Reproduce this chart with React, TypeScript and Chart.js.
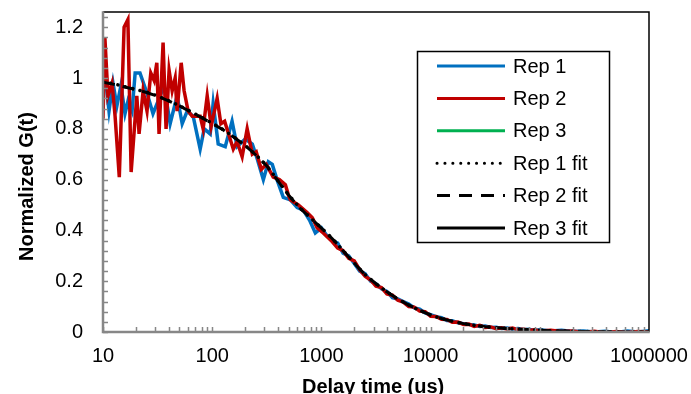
import React, { useEffect, useRef } from 'react';
import { Chart, registerables } from 'chart.js';

Chart.register(...registerables);

// ---------- DATA ----------
const rep1Time = [
  10, 10.65, 11.35, 12.35, 13.4, 14.6, 15.9, 16.95, 18.45, 19.7, 21.8, 25.3, 28.7, 32.0, 36.3, 41.2, 47.7, 53.1,
  59.0, 66.9, 77.6, 84.5, 95.9, 102, 113.5, 131.6, 152, 169, 201, 233, 259, 294, 327, 355, 392, 448, 520, 600, 683,
  780, 880, 1000, 1120, 1260, 1410, 1580, 1780, 2000, 2240, 2510, 2820, 3160, 3550, 3980, 4470, 5010, 5620, 6310,
  7080, 7940, 8910, 10000, 11200, 12600, 14100, 15800, 17800, 20000, 22400, 25100, 28200, 31600, 35500, 39800,
  44700, 50100, 56200, 63100, 70800, 79400, 89100, 100000, 126000, 158000, 200000, 251000, 316000, 398000, 501000,
  631000, 794000, 1000000,
];
const rep1Values = [
  1.16, 0.98, 0.87, 0.98, 0.89, 0.97, 0.86, 0.91, 0.87, 1.02, 1.02, 0.94, 0.86, 0.91, 0.97, 0.82, 0.93, 0.82,
  0.87, 0.85, 0.72, 0.80, 0.78, 0.90, 0.74, 0.73, 0.83, 0.73, 0.76, 0.74, 0.68, 0.60, 0.67, 0.66, 0.60, 0.53, 0.52, 0.49, 0.48,
  0.44, 0.39, 0.41, 0.38, 0.36, 0.35, 0.31, 0.30, 0.27, 0.24, 0.23, 0.20, 0.19, 0.17, 0.16, 0.135, 0.13, 0.12, 0.11,
  0.095, 0.09, 0.075, 0.068, 0.06, 0.056, 0.045, 0.044, 0.036, 0.033, 0.030, 0.028, 0.022, 0.024, 0.018, 0.019,
  0.014, 0.016, 0.012, 0.014, 0.009, 0.011, 0.006, 0.009, 0.004, 0.007, 0.002, 0.004, 0.0, 0.003, -0.002,
  0.004, 0.0, 0.005,
];

const rep2Time = [
  10, 10.4, 11.1, 12.1, 12.9, 14.1, 15.6, 16.9, 18.1, 20.4, 21.4, 23.3, 25.3, 27.4, 29.4, 31.1, 32.6, 35.5, 37.8,
  40.3, 43.0, 45.8, 47.7, 52.0, 55.3, 60.2, 65.6, 72.8, 77.6, 82.6, 90.0, 97.9, 111, 120, 130, 156, 169, 188, 209,
  233, 253, 282, 313, 362, 412, 468, 498, 520, 615, 740, 826, 915, 1040, 1260, 1410, 1580, 1780, 2000, 2240, 2510,
  2820, 3160, 3550, 3980, 4470, 5010, 5620, 6310, 7080, 7940, 8910, 10000, 11200, 12600, 14100, 15800, 17800,
  20000, 22400, 25100, 28200, 31600, 35500, 39800, 44700, 50100, 56200, 63100, 70800, 79400, 89100, 100000,
  126000, 158000, 200000, 251000, 316000, 398000, 501000, 631000, 794000, 1000000,
];
const rep2Values = [
  0.84, 1.16, 0.93, 0.98, 0.85, 0.61, 1.20, 1.23, 0.63, 0.93, 0.78, 0.95, 0.87, 1.02, 0.99, 1.06, 0.78, 1.14, 0.80,
  1.03, 0.95, 1.00, 0.87, 1.06, 0.95, 0.87, 0.85, 0.85, 0.85, 0.80, 0.93, 0.81, 0.92, 0.82, 0.83, 0.72, 0.75, 0.69, 0.80,
  0.70, 0.71, 0.64, 0.66, 0.61, 0.60, 0.58, 0.54, 0.52, 0.50, 0.47, 0.45, 0.41, 0.39, 0.355, 0.33, 0.32, 0.29, 0.28, 0.245, 0.22,
  0.205, 0.18, 0.175, 0.15, 0.145, 0.125, 0.118, 0.10, 0.098, 0.082, 0.08, 0.062, 0.061, 0.05, 0.049, 0.038, 0.039,
  0.03, 0.031, 0.022, 0.026, 0.018, 0.02, 0.013, 0.017, 0.012, 0.016, 0.009, 0.012, 0.006, 0.009, 0.004,
  0.007, 0.002, 0.004, -0.002, 0.003, -0.003, 0.002, -0.002, 0.002, 0.0,
];

const rep3Time: number[] = [];
const rep3Values: number[] = [];

const fitTime = [
  10, 12.6, 15.8, 20, 25.1, 31.6, 39.8, 50.1, 63.1, 79.4, 100, 126, 158, 200, 251, 316, 398, 501, 631, 794, 1000,
  1259, 1585, 1995, 2512, 3162, 3981, 5012, 6310, 7943, 10000, 12589, 15849, 19953, 25119, 31623, 39811, 50119,
  63096, 79433, 100000, 125893, 158489, 199526, 251189, 316228, 398107, 501187, 630957, 794328, 1000000,
];
const rep1FitValues = [
  0.985, 0.977, 0.966, 0.955, 0.944, 0.929, 0.911, 0.891, 0.869, 0.846, 0.822, 0.797, 0.768, 0.735, 0.698, 0.655,
  0.597, 0.540, 0.490, 0.450, 0.410, 0.368, 0.320, 0.272, 0.226, 0.190, 0.158, 0.130, 0.106, 0.085, 0.067, 0.053,
  0.042, 0.033, 0.026, 0.021, 0.017, 0.014, 0.011, 0.009, 0.007, 0.005, 0.004, 0.003, 0.002, 0.001, 0.001, 0.0,
  0.0, 0.0, 0.0,
];
const rep2FitValues = [
  0.983, 0.975, 0.965, 0.954, 0.943, 0.928, 0.910, 0.890, 0.868, 0.845, 0.821, 0.796, 0.767, 0.734, 0.697, 0.654,
  0.596, 0.539, 0.489, 0.449, 0.409, 0.367, 0.319, 0.271, 0.226, 0.190, 0.158, 0.130, 0.106, 0.085, 0.067, 0.053,
  0.042, 0.033, 0.026, 0.021, 0.017, 0.014, 0.011, 0.009, 0.007, 0.005, 0.004, 0.003, 0.002, 0.001, 0.001, 0.0,
  0.0, 0.0, 0.0,
];
const rep3FitTime: number[] = [];
const rep3FitValues: number[] = [];

const seriesLabels = ['Rep 1', 'Rep 2', 'Rep 3', 'Rep 1 fit', 'Rep 2 fit', 'Rep 3 fit'];
const xTickValues = [10, 100, 1000, 10000, 100000, 1000000];
const yTickValues = [0, 0.2, 0.4, 0.6, 0.8, 1, 1.2];
const xTitle = 'Delay time (us)';
const yTitle = 'Normalized G(t)';

// ---------- STYLE ----------
const FONT = "'Liberation Sans', Arial, sans-serif";
const BLUE = '#0070C0';
const RED = '#C00000';
const GREEN = '#00B050';
const AXIS_GRAY = '#878787';

const toPoints = (xs: number[], ys: number[]) => xs.map((x, i) => ({ x, y: ys[i] }));

const legendStyles = [
  { color: BLUE, dash: [] as number[], cap: 'butt' as CanvasLineCap },
  { color: RED, dash: [] as number[], cap: 'butt' as CanvasLineCap },
  { color: GREEN, dash: [] as number[], cap: 'butt' as CanvasLineCap },
  { color: '#000', dash: [0.1, 7.8], cap: 'round' as CanvasLineCap },
  { color: '#000', dash: [13, 9], cap: 'butt' as CanvasLineCap },
  { color: '#000', dash: [] as number[], cap: 'butt' as CanvasLineCap },
];

const decorPlugin = {
  id: 'decor',
  afterDatasetsDraw(chart: any) {
    const { ctx, chartArea: a, scales } = chart;
    const xs = scales.x;
    const ys = scales.y;
    ctx.save();
    ctx.strokeStyle = '#000';
    ctx.lineWidth = 1.5;
    ctx.beginPath();
    ctx.moveTo(a.left, a.top);
    ctx.lineTo(a.right, a.top);
    ctx.lineTo(a.right, a.bottom);
    ctx.stroke();
    ctx.strokeStyle = AXIS_GRAY;
    ctx.lineWidth = 1.5;
    ctx.beginPath();
    for (let d = 1; d < 6; d++) {
      for (let m = 1; m < 10; m++) {
        const v = m * Math.pow(10, d);
        const px = Math.round(xs.getPixelForValue(v)) + 0.5;
        ctx.moveTo(px, a.bottom);
        ctx.lineTo(px, a.bottom - 5);
      }
    }
    for (let k = 0; k <= 31; k++) {
      const v = k * 0.04;
      const py = Math.round(ys.getPixelForValue(v)) + 0.5;
      ctx.moveTo(a.left, py);
      ctx.lineTo(a.left + 5, py);
    }
    ctx.stroke();
    ctx.lineWidth = 2.5;
    ctx.beginPath();
    ctx.moveTo(a.left, a.top - 0.75);
    ctx.lineTo(a.left, a.bottom);
    ctx.lineTo(a.right + 0.75, a.bottom);
    ctx.stroke();
    ctx.restore();
  },
  afterDraw(chart: any) {
    const { ctx } = chart;
    ctx.save();
    ctx.fillStyle = '#000';
    ctx.font = `bold 20px ${FONT}`;
    ctx.textAlign = 'left';
    ctx.textBaseline = 'alphabetic';
    ctx.fillText(xTitle, 302, 393);
    ctx.save();
    ctx.translate(33, 261);
    ctx.rotate(-Math.PI / 2);
    ctx.fillText(yTitle, 0, 0);
    ctx.restore();

    const bx = 417.5, by = 51.5, bw = 192, bh = 191;
    ctx.fillStyle = '#fff';
    ctx.fillRect(bx, by, bw, bh);
    ctx.strokeStyle = '#000';
    ctx.lineWidth = 1.5;
    ctx.strokeRect(bx, by, bw, bh);
    const rowH = 32.4;
    ctx.font = `20px ${FONT}`;
    ctx.textBaseline = 'middle';
    ctx.textAlign = 'left';
    seriesLabels.forEach((lab, i) => {
      const y = 66 + i * rowH;
      const s = legendStyles[i];
      ctx.beginPath();
      ctx.strokeStyle = s.color;
      ctx.lineWidth = 3;
      ctx.lineCap = s.cap;
      ctx.setLineDash(s.dash);
      ctx.moveTo(437, y);
      ctx.lineTo(505, y);
      ctx.stroke();
      ctx.setLineDash([]);
      ctx.fillStyle = '#000';
      ctx.fillText(lab, 513, y + 1);
    });
    ctx.restore();
  },
};

export default function App() {
  const canvasRef = useRef<HTMLCanvasElement | null>(null);

  useEffect(() => {
    if (!canvasRef.current) return;
    Chart.defaults.font.family = FONT;
    const chart = new Chart(canvasRef.current, {
      type: 'line',
      data: {
        datasets: [
          { label: seriesLabels[0], data: toPoints(rep1Time, rep1Values), borderColor: BLUE, borderWidth: 3.5, pointRadius: 0, tension: 0, fill: false, order: 5 },
          { label: seriesLabels[1], data: toPoints(rep2Time, rep2Values), borderColor: RED, borderWidth: 3.5, pointRadius: 0, tension: 0, fill: false, order: 4 },
          { label: seriesLabels[2], data: toPoints(rep3Time, rep3Values), borderColor: GREEN, borderWidth: 3.5, pointRadius: 0, tension: 0, fill: false, order: 3 },
          {
            label: seriesLabels[3], data: toPoints(fitTime, rep1FitValues), borderColor: '#000', borderWidth: 3.5,
            borderDash: [0.1, 7.5], borderCapStyle: 'round', pointRadius: 0, tension: 0, fill: false, order: 0,
          },
          {
            label: seriesLabels[4], data: toPoints(fitTime, rep2FitValues), borderColor: '#000', borderWidth: 3,
            borderDash: [12, 8], pointRadius: 0, tension: 0, fill: false, order: 1,
          },
          { label: seriesLabels[5], data: toPoints(rep3FitTime, rep3FitValues), borderColor: '#000', borderWidth: 3, pointRadius: 0, tension: 0, fill: false, order: 2 },
        ],
      },
      options: {
        animation: false,
        responsive: false,
        maintainAspectRatio: false,
        devicePixelRatio: 1,
        layout: { padding: { top: 12, right: 42, left: 0, bottom: 0 } },
        plugins: {
          legend: { display: false },
          tooltip: { enabled: false },
          title: { display: false },
        },
        scales: {
          x: {
            type: 'logarithmic',
            position: 'bottom',
            min: 10,
            max: 1000000,
            grid: { display: false, drawTicks: false },
            border: { display: false },
            afterBuildTicks: (scale: any) => {
              scale.ticks = xTickValues.map((v) => ({ value: v }));
            },
            afterFit: (scale: any) => {
              scale.height = 62;
              scale.paddingLeft = 0;
              scale.paddingRight = 0;
              scale.paddingTop = 0;
              scale.paddingBottom = 0;
            },
            ticks: {
              autoSkip: false,
              maxRotation: 0,
              padding: 12,
              color: '#000',
              font: { size: 20, family: FONT },
              callback: (v: any) => String(v),
            },
          },
          y: {
            type: 'linear',
            position: 'left',
            min: 0,
            max: 1.26,
            grid: { display: false, drawTicks: false },
            border: { display: false },
            afterBuildTicks: (scale: any) => {
              scale.ticks = yTickValues.map((v) => ({ value: v }));
            },
            afterFit: (scale: any) => {
              scale.width = 103;
              scale.paddingLeft = 0;
              scale.paddingRight = 0;
              scale.paddingTop = 0;
              scale.paddingBottom = 0;
            },
            ticks: {
              padding: 20,
              color: '#000',
              font: { size: 20, family: FONT },
              callback: (v: any) => String(Math.round(Number(v) * 10) / 10),
            },
          },
        },
      } as any,
      plugins: [decorPlugin],
    });
    return () => chart.destroy();
  }, []);

  return (
    <div style={{ position: 'absolute', left: 0, top: 0, width: 691, height: 394, background: '#fff' }}>
      <canvas ref={canvasRef} width={691} height={394} style={{ display: 'block', width: 691, height: 394 }} />
    </div>
  );
}
